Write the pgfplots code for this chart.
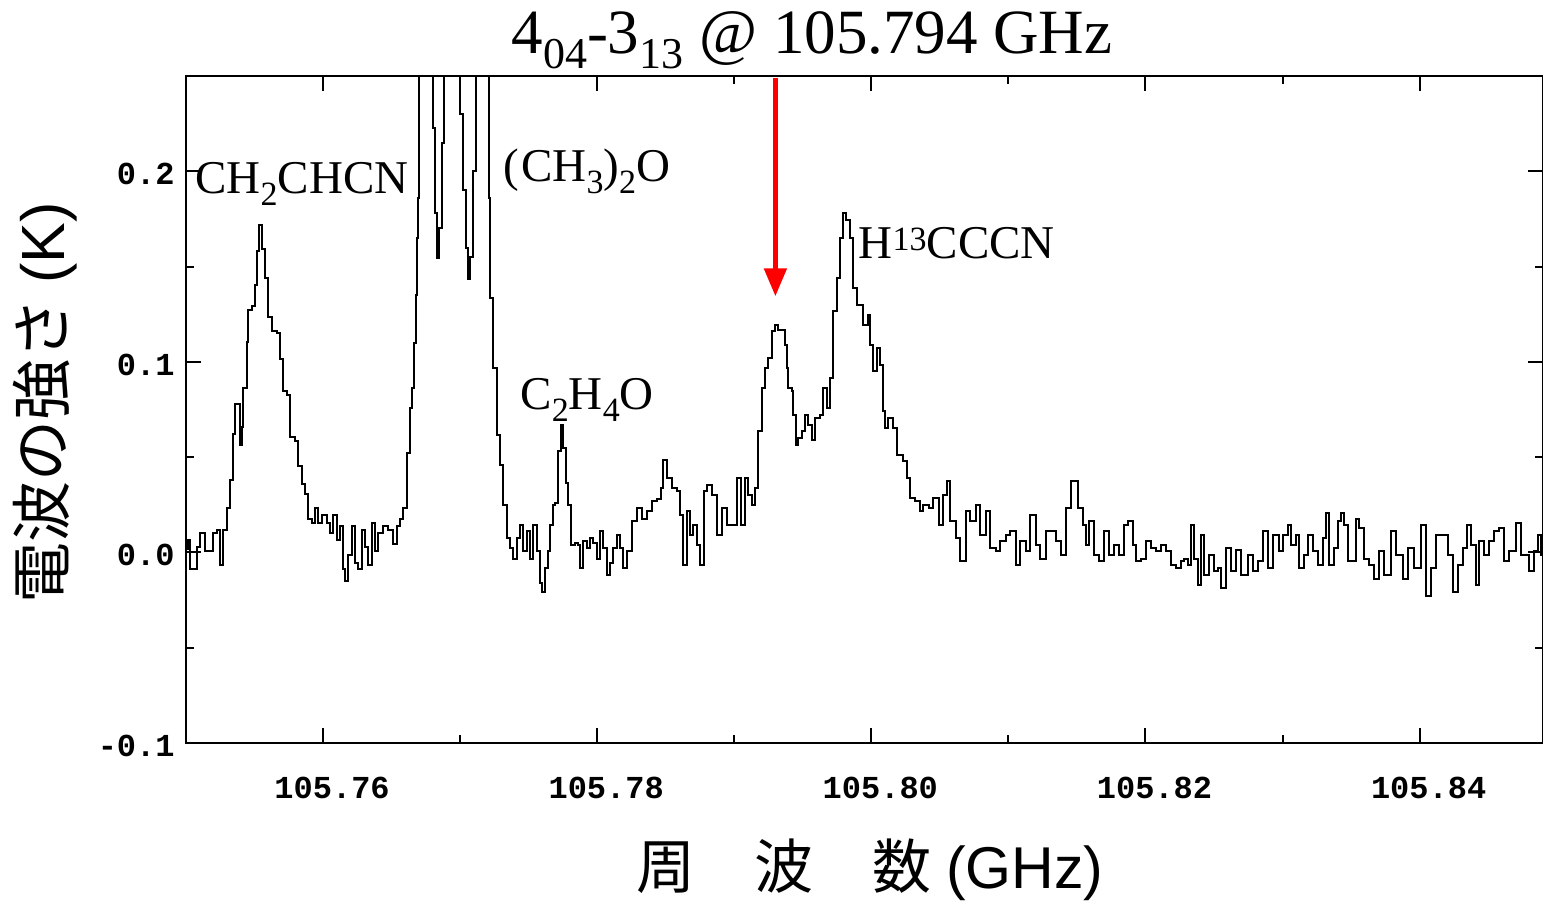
\documentclass[border=0pt]{standalone}
\usepackage{fontspec}
\setmainfont{Liberation Serif}
\newfontfamily\monofont{Liberation Mono}
\newfontfamily\jp{Noto Sans CJK JP}
\newfontfamily\arialf{Liberation Sans}
\usepackage{xfp}
\usepackage{pgfplots}
\pgfplotsset{compat=1.18}
\usetikzlibrary{arrows.meta}
\newcommand\subA[1]{\raisebox{-6pt}{\fontsize{17}{17}\selectfont #1}}
\newcommand\supA[1]{\raisebox{4pt}{\fontsize{17}{17}\selectfont #1}}
\newcommand\subT[1]{\raisebox{-7.5pt}{\fontsize{22}{22}\selectfont #1}}
\begin{document}
\begin{tikzpicture}
\begin{axis}[
  at={(0,0)}, anchor=south west,
  scale only axis, width=678.5pt, height=333.5pt,
  x coord trafo/.code={\edef\pgfmathresult{\fpeval{(#1-105.75)*1000}}},
  xmin=105.75, xmax=105.849,
  ymin=-0.1, ymax=0.25,
  xtick={105.76,105.78,105.80,105.82,105.84},
  xticklabels={105.76,105.78,105.80,105.82,105.84},
  minor xtick={105.77,105.79,105.81,105.83},
  ytick={-0.1,0,0.1,0.2},
  yticklabels={-0.1,0.0,0.1,0.2},
  minor ytick={-0.05,0.05,0.15},
  tick align=inside,
  major tick length=7.5pt, minor tick length=4pt,
  tick style={black, line width=1pt},
  axis line style={line width=1pt},
  every tick label/.append style={font=\monofont\bfseries\fontsize{16}{16}\selectfont, inner sep=0pt},
  xticklabel style={yshift=-17pt, xshift=4.5pt},
  yticklabel style={xshift=-5.5pt, yshift=-1.5pt},
  title={4\subT{04}-3\subT{13} @ 105.794 GHz},
  title style={at={(axis description cs:0.4613,1.0165)}, anchor=base, font=\fontsize{31.5}{31.5}\selectfont, inner sep=0pt},
  xlabel={{\jp 周　波　数} {\arialf (GHz)}},
  xlabel style={at={(axis description cs:0.5041,-0.2174)}, anchor=base, font=\fontsize{29.5}{29.5}\selectfont, inner sep=0pt},
  ylabel={{\jp 電波の強さ} {\arialf (K)}},
  ylabel style={at={(axis description cs:-0.1039,0.5097)}, anchor=center, font=\fontsize{30.5}{30.5}\selectfont, inner sep=0pt},
]
\addplot[const plot mark left, black, line width=1pt] table[x=x, y=y] {
x y
105.75000 0.0020
105.75015 0.0063
105.75029 -0.0089
105.75066 -0.0089
105.75080 0.0026
105.75102 0.0100
105.75124 0.0100
105.75139 0.0005
105.75175 0.0005
105.75197 0.0100
105.75226 0.0116
105.75248 -0.0068
105.75270 0.0116
105.75299 0.0231
105.75321 0.0378
105.75343 0.0620
105.75358 0.0777
105.75380 0.0777
105.75394 0.0562
105.75409 0.0656
105.75416 0.0861
105.75445 0.1103
105.75453 0.1271
105.75482 0.1292
105.75504 0.1402
105.75518 0.1580
105.75533 0.1717
105.75555 0.1591
105.75577 0.1439
105.75599 0.1234
105.75628 0.1160
105.75664 0.1150
105.75686 0.1013
105.75708 0.0845
105.75737 0.0824
105.75759 0.0604
105.75796 0.0583
105.75818 0.0452
105.75847 0.0357
105.75869 0.0305
105.75891 0.0173
105.75920 0.0152
105.75942 0.0231
105.75964 0.0152
105.75993 0.0194
105.76029 0.0152
105.76051 0.0100
105.76073 0.0194
105.76102 0.0063
105.76124 0.0137
105.76146 -0.0089
105.76161 -0.0152
105.76183 -0.0016
105.76212 0.0137
105.76234 -0.0053
105.76256 -0.0089
105.76285 0.0116
105.76307 0.0026
105.76329 -0.0068
105.76358 0.0152
105.76380 0.0005
105.76402 0.0100
105.76438 0.0137
105.76475 0.0116
105.76511 0.0042
105.76540 0.0137
105.76562 0.0173
105.76584 0.0231
105.76613 0.0520
105.76635 0.0756
105.76650 0.0861
105.76664 0.1097
105.76679 0.1349
105.76686 0.1649
105.76694 0.1859
105.76701 0.3000
105.76803 0.2226
105.76818 0.1780
105.76832 0.1544
105.76847 0.1700
105.76869 0.2147
105.76883 0.3000
105.77000 0.2300
105.77022 0.1900
105.77044 0.1600
105.77059 0.1435
105.77073 0.1550
105.77095 0.2000
105.77117 0.3000
105.77212 0.1859
105.77219 0.1334
105.77241 0.0966
105.77270 0.0614
105.77292 0.0457
105.77314 0.0247
105.77343 0.0074
105.77365 0.0021
105.77387 -0.0032
105.77416 0.0074
105.77438 0.0142
105.77460 0.0005
105.77489 0.0110
105.77511 -0.0032
105.77533 0.0142
105.77562 0.0005
105.77584 -0.0163
105.77599 -0.0205
105.77621 -0.0084
105.77643 0.0005
105.77657 0.0142
105.77679 0.0247
105.77694 0.0257
105.77716 0.0530
105.77738 0.0667
105.77752 0.0546
105.77774 0.0362
105.77789 0.0247
105.77811 0.0037
105.77840 0.0047
105.77862 0.0037
105.77876 -0.0084
105.77898 0.0058
105.77927 0.0021
105.77949 0.0074
105.77971 0.0047
105.78000 -0.0032
105.78022 0.0110
105.78044 0.0021
105.78073 -0.0121
105.78095 -0.0058
105.78117 0.0021
105.78146 0.0089
105.78168 0.0021
105.78190 -0.0084
105.78219 0.0005
105.78256 0.0163
105.78292 0.0231
105.78329 0.0178
105.78365 0.0215
105.78402 0.0268
105.78438 0.0283
105.78468 0.0336
105.78482 0.0483
105.78511 0.0389
105.78548 0.0336
105.78584 0.0320
105.78606 0.0194
105.78628 -0.0068
105.78657 0.0215
105.78679 0.0089
105.78701 0.0142
105.78730 0.0037
105.78752 -0.0068
105.78781 0.0320
105.78803 0.0352
105.78840 0.0299
105.78876 0.0089
105.78913 0.0231
105.78949 0.0142
105.78986 0.0142
105.79022 0.0389
105.79052 0.0142
105.79081 0.0389
105.79103 0.0299
105.79132 0.0247
105.79154 0.0336
105.79176 0.0635
105.79205 0.0861
105.79227 0.0966
105.79249 0.1019
105.79278 0.1160
105.79300 0.1192
105.79322 0.1166
105.79358 0.1166
105.79373 0.1087
105.79387 0.0966
105.79395 0.0861
105.79424 0.0845
105.79431 0.0719
105.79453 0.0562
105.79468 0.0599
105.79497 0.0635
105.79519 0.0719
105.79541 0.0667
105.79570 0.0588
105.79592 0.0704
105.79628 0.0719
105.79650 0.0861
105.79679 0.0756
105.79701 0.0914
105.79723 0.1265
105.79752 0.1439
105.79774 0.1649
105.79796 0.1780
105.79818 0.1743
105.79847 0.1649
105.79869 0.1386
105.79898 0.1297
105.79920 0.1297
105.79942 0.1192
105.79979 0.1244
105.79993 0.1087
105.80015 0.0950
105.80044 0.1071
105.80066 0.0982
105.80088 0.0740
105.80103 0.0651
105.80125 0.0704
105.80161 0.0651
105.80190 0.0509
105.80212 0.0509
105.80234 0.0478
105.80263 0.0389
105.80285 0.0284
105.80322 0.0268
105.80358 0.0215
105.80380 0.0247
105.80417 0.0231
105.80453 0.0284
105.80490 0.0142
105.80526 0.0299
105.80555 0.0373
105.80577 0.0163
105.80614 0.0074
105.80650 -0.0047
105.80687 0.0215
105.80723 0.0163
105.80760 0.0247
105.80796 0.0089
105.80833 0.0215
105.80869 0.0021
105.80906 0.0005
105.80942 0.0058
105.80979 0.0089
105.81015 0.0110
105.81052 -0.0068
105.81088 0.0058
105.81125 0.0005
105.81161 0.0194
105.81198 0.0037
105.81234 -0.0032
105.81271 0.0110
105.81307 0.0110
105.81344 0.0058
105.81380 -0.0016
105.81417 0.0231
105.81453 0.0373
105.81482 0.0373
105.81504 0.0231
105.81541 0.0142
105.81563 0.0037
105.81585 0.0163
105.81621 -0.0016
105.81658 -0.0047
105.81694 0.0110
105.81731 -0.0016
105.81767 0.0037
105.81804 -0.0016
105.81840 0.0142
105.81869 0.0163
105.81906 0.0037
105.81928 -0.0047
105.81964 -0.0032
105.82001 0.0058
105.82037 0.0021
105.82074 0.0005
105.82110 0.0037
105.82147 0.0005
105.82183 -0.0068
105.82220 -0.0084
105.82256 -0.0047
105.82278 -0.0032
105.82307 -0.0068
105.82329 0.0142
105.82351 -0.0032
105.82380 -0.0173
105.82402 0.0089
105.82424 -0.0121
105.82461 -0.0016
105.82497 -0.0100
105.82526 -0.0084
105.82548 -0.0189
105.82585 0.0021
105.82621 -0.0100
105.82658 0.0011
105.82694 -0.0121
105.82745 -0.0016
105.82782 -0.0100
105.82818 -0.0047
105.82855 0.0110
105.82891 -0.0084
105.82928 0.0089
105.82972 0.0005
105.83001 0.0089
105.83037 0.0142
105.83059 0.0037
105.83096 0.0089
105.83118 -0.0084
105.83154 -0.0016
105.83183 0.0089
105.83220 0.0005
105.83256 -0.0068
105.83293 0.0074
105.83315 0.0205
105.83337 -0.0068
105.83373 0.0021
105.83402 0.0163
105.83424 0.0205
105.83446 0.0142
105.83475 -0.0047
105.83497 -0.0047
105.83534 0.0178
105.83556 0.0126
105.83592 -0.0032
105.83629 -0.0068
105.83665 -0.0137
105.83702 0.0005
105.83738 -0.0121
105.83789 0.0110
105.83826 -0.0016
105.83877 -0.0137
105.83913 0.0021
105.83957 -0.0084
105.84008 0.0142
105.84045 -0.0226
105.84081 -0.0084
105.84118 0.0089
105.84169 0.0089
105.84205 -0.0016
105.84242 -0.0205
105.84278 -0.0068
105.84315 0.0021
105.84344 0.0142
105.84373 0.0037
105.84410 -0.0173
105.84432 0.0058
105.84468 -0.0016
105.84505 0.0058
105.84541 0.0110
105.84578 0.0126
105.84614 -0.0047
105.84651 0.0005
105.84702 0.0152
105.84738 -0.0016
105.84797 -0.0100
105.84833 0.0005
105.84862 0.0089
105.84884 -0.0016
105.84906 0.0005
};
\node[anchor=base west, inner sep=0pt, font=\fontsize{23.5}{23.5}\selectfont] at (axis cs:105.75066,0.1885) {CH\subA{2}CHCN};
\node[anchor=base west, inner sep=0pt, font=\fontsize{23.5}{23.5}\selectfont] at (axis cs:105.77314,0.1948) {(\kern1pt CH\subA{3})\subA{2}O};
\node[anchor=base west, inner sep=0pt, font=\fontsize{23.5}{23.5}\selectfont] at (axis cs:105.77438,0.0751) {C\subA{2}H\subA{4}O};
\node[anchor=base west, inner sep=0pt, font=\fontsize{23.5}{23.5}\selectfont] at (axis cs:105.79905,0.1543) {H\supA{13}CCCN};
\draw[red, line width=2.5pt, -{Triangle[width=11pt,length=14pt]}] (axis cs:105.7930,0.249) -- (axis cs:105.7930,0.1344);
\end{axis}
\pgfresetboundingbox
\path (-93pt,-79pt) rectangle (678.5pt,371.5pt);
\end{tikzpicture}
\end{document}
